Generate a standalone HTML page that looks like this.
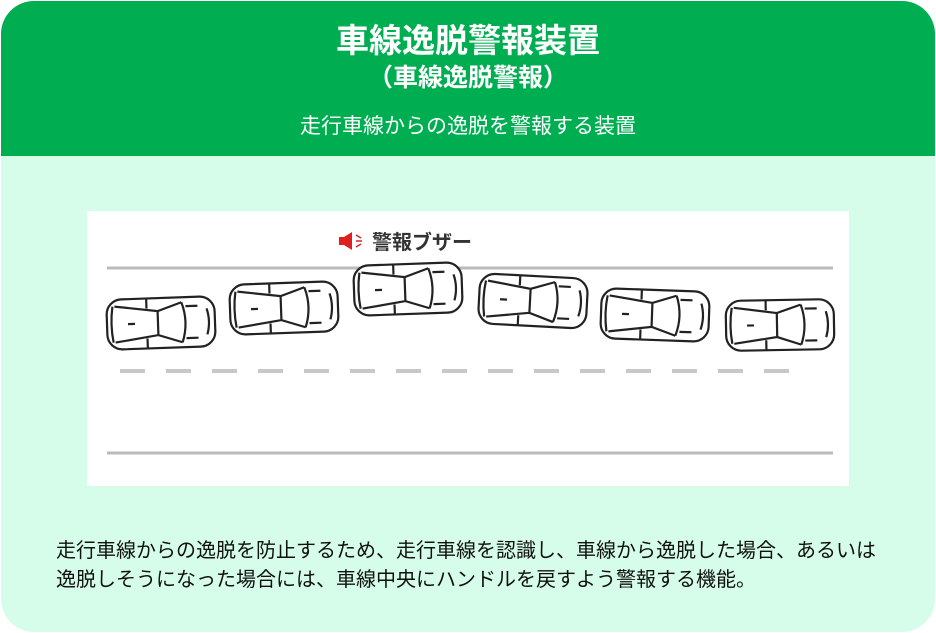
<!DOCTYPE html>
<html><head><meta charset="utf-8"><style>
body{margin:0;width:936px;height:633px;background:#fff;font-family:"Liberation Sans","Noto Sans CJK JP",sans-serif;}
.box{position:absolute;left:1px;top:1px;width:934px;height:631px;border-radius:33px;background:#d6fde9;overflow:hidden;}
.hd{position:absolute;left:0;top:0;width:934px;height:155px;background:#00ae52;color:#fff;text-align:center;}
.t1{position:absolute;top:21px;width:100%;font-size:33px;font-weight:bold;line-height:38px;}
.t2{position:absolute;top:62px;width:100%;font-size:25px;font-weight:bold;line-height:30px;}
.t3{position:absolute;top:113px;width:100%;font-size:21px;line-height:26px;}
.panel{position:absolute;left:86px;top:210px;width:762px;height:275px;background:#fff;}
.desc{position:absolute;left:55px;top:536px;font-size:20px;line-height:29px;color:#111;white-space:nowrap;}
</style></head><body>
<div class="box">
<div class="hd"><div class="t1">車線逸脱警報装置</div><div class="t2">（車線逸脱警報）</div><div class="t3">走行車線からの逸脱を警報する装置</div></div>
<div class="panel"></div>
<div class="desc">走行車線からの逸脱を防止するため、走行車線を認識し、車線から逸脱した場合、あるいは<br>逸脱しそうになった場合には、車線中央にハンドルを戻すよう警報する機能。</div>
</div>
<svg style="position:absolute;left:0;top:0" width="936" height="633">
<defs>
<g id="car" fill="none" stroke="#222" stroke-width="2.2">
<rect x="-54" y="-25" width="108" height="50" rx="15" fill="#fff"/>
<path d="M-48,-18 Q-51,0 -48,18"/>
<path d="M-46,-18 L-3,-12 L21,-20 M-46,18 L-3,12 L21,20"/>
<path d="M-3,-12 L-3,12"/>
<path d="M21,-20 Q28,0 21,20"/>
<path d="M-14,-25 L-14,-15 M-14,15 L-14,25"/>
<path d="M25,-16 L37,-16 M25,16 L37,16 M-33,0 L-26,0"/>
<path d="M46,-13 Q50,0 46,13"/>
</g>
</defs>
<line x1="107" y1="268" x2="833" y2="268" stroke="#bbb" stroke-width="3"/>
<line x1="107" y1="453" x2="833" y2="453" stroke="#bbb" stroke-width="3"/>
<line x1="120" y1="371" x2="792" y2="371" stroke="#c8c8c8" stroke-width="4" stroke-dasharray="25 21"/>
<use href="#car" transform="translate(161,323) rotate(-2)"/>
<use href="#car" transform="translate(284,308) rotate(-2)"/>
<use href="#car" transform="translate(408,289) rotate(-2)"/>
<use href="#car" transform="translate(533,301) rotate(3)"/>
<use href="#car" transform="translate(655,315) rotate(2)"/>
<use href="#car" transform="translate(780,325) rotate(-1)"/>
<path d="M339,237 L344,237 L352,232 L352,250 L344,245 L339,245Z" fill="#e02020"/>
<path d="M356,235 L361,238 M356,241 L362,241 M356,247 L361,244" stroke="#e02020" stroke-width="1.5"/>
<text x="372" y="249" font-size="20" font-weight="bold" fill="#333" font-family="Liberation Sans,Noto Sans CJK JP,sans-serif">警報ブザー</text>
</svg>
</body></html>
